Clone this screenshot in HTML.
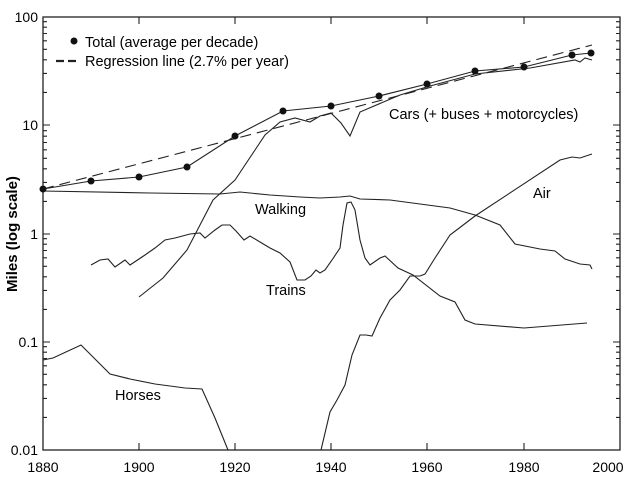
<!DOCTYPE html>
<html><head><meta charset="utf-8"><style>
body{margin:0;background:#fff}
svg{display:block;font-family:"Liberation Sans",sans-serif}
text{fill:#000}
</style></head><body>
<svg width="623" height="493" viewBox="0 0 623 493">
<g fill="none" stroke="#222" stroke-width="1.1">
<rect x="43" y="17" width="577" height="433" stroke-width="1.3"/>
<path d="M43 450h7M43 417.4h4M43 398.4h4M43 384.8h4M43 374.3h4M43 365.8h4M43 358.5h4M43 352.2h4M43 346.7h4
M43 342h7M43 309.4h4M43 290.4h4M43 276.8h4M43 266.3h4M43 257.8h4M43 250.5h4M43 244.2h4M43 238.7h4
M43 234h7M43 201.4h4M43 182.4h4M43 168.8h4M43 158.3h4M43 149.8h4M43 142.5h4M43 136.2h4M43 130.7h4
M43 125h7M43 92.4h4M43 73.4h4M43 59.8h4M43 49.3h4M43 40.8h4M43 33.5h4M43 27.2h4M43 21.7h4
M620 450h-7M620 417.4h-4M620 398.4h-4M620 384.8h-4M620 374.3h-4M620 365.8h-4M620 358.5h-4M620 352.2h-4M620 346.7h-4
M620 342h-7M620 309.4h-4M620 290.4h-4M620 276.8h-4M620 266.3h-4M620 257.8h-4M620 250.5h-4M620 244.2h-4M620 238.7h-4
M620 234h-7M620 201.4h-4M620 182.4h-4M620 168.8h-4M620 158.3h-4M620 149.8h-4M620 142.5h-4M620 136.2h-4M620 130.7h-4
M620 125h-7M620 92.4h-4M620 73.4h-4M620 59.8h-4M620 49.3h-4M620 40.8h-4M620 33.5h-4M620 27.2h-4M620 21.7h-4
M139 450v-7M235 450v-7M331 450v-7M427 450v-7M524 450v-7
M139 17v7M235 17v7M331 17v7M427 17v7M524 17v7"/>
<polyline points="43,191 150,193 220,194 240,192 270,195 300,197 320,198 340,197 350,196 360,199 390,200 420,204 450,208 475,215 500,225 515,244 540,249 555,251 565,259 580,264 590,265 592,269"/>
<polyline points="91,265 100,260 108,259 115,267 125,260 130,265 145,255 155,248 165,240 175,238 190,234 200,233 205,238 215,230 222,225 230,225 236,231 244,240 250,236 260,242 270,248 280,253 290,262 297,280 305,280 311,276 316,270 320,273 325,270 332,260 340,248 343,225 347,203 351,202 355,210 360,240 365,258 370,265 380,258 385,256 398,268 413,275 440,296 455,302 465,320 475,324 524,328 587,323"/>
<polyline points="321,450 330,412 337,400 345,385 352,355 360,335 366,335 372,336 380,318 390,300 400,290 410,276 420,276 425,274 435,258 450,235 475,216 560,160 572,157 580,158 592,154"/>
<polyline points="43,360 53,358 81,345 110,374 130,379 155,384 185,388 202,389 215,418 228,450"/>
<polyline points="139,297 163,278 187,250 213,200 235,180 245,165 255,150 265,135 280,122 295,118 310,122 320,116 331,113 341,123 350,136 360,112 400,95 430,86 475,74 530,68 575,60 580,62 585,58 592,60"/>
<polyline points="43,189 91,181 139,177 187,167 235,136 283,111 331,106 379,96 427,84 475,71 524,67 572,55 591,53"/>
<line x1="43" y1="189" x2="592" y2="45" stroke-dasharray="11,6"/>
<line x1="56" y1="61" x2="79" y2="61" stroke-width="2.2" stroke-dasharray="8,4"/>
</g>
<g fill="#111">
<circle cx="43" cy="189" r="3.5"/><circle cx="91" cy="181" r="3.5"/><circle cx="139" cy="177" r="3.5"/><circle cx="187" cy="167" r="3.5"/><circle cx="235" cy="136" r="3.5"/><circle cx="283" cy="111" r="3.5"/><circle cx="331" cy="106" r="3.5"/><circle cx="379" cy="96" r="3.5"/><circle cx="427" cy="84" r="3.5"/><circle cx="475" cy="71" r="3.5"/><circle cx="524" cy="67" r="3.5"/><circle cx="572" cy="55" r="3.5"/><circle cx="591" cy="53" r="3.5"/>
<circle cx="74" cy="41" r="3.5"/>
</g>
<g font-size="14.5">
<text x="85" y="47">Total (average per decade)</text>
<text x="85" y="66">Regression line (2.7% per year)</text>
<text x="389" y="119">Cars (+ buses + motorcycles)</text>
<text x="255" y="214">Walking</text>
<text x="266" y="295">Trains</text>
<text x="115" y="400">Horses</text>
<text x="533" y="198">Air</text>
</g>
<g font-size="14" text-anchor="end">
<text x="38" y="22">100</text><text x="38" y="130">10</text><text x="38" y="239">1</text><text x="38" y="347">0.1</text><text x="38" y="455">0.01</text>
</g>
<g font-size="14" text-anchor="middle">
<text x="43" y="472">1880</text><text x="139" y="472">1900</text><text x="235" y="472">1920</text><text x="331" y="472">1940</text><text x="427" y="472">1960</text><text x="524" y="472">1980</text><text x="608" y="472">2000</text>
</g>
<text font-size="15" text-anchor="middle" font-weight="bold" transform="translate(17,234) rotate(-90)">Miles (log scale)</text>
</svg>
</body></html>
